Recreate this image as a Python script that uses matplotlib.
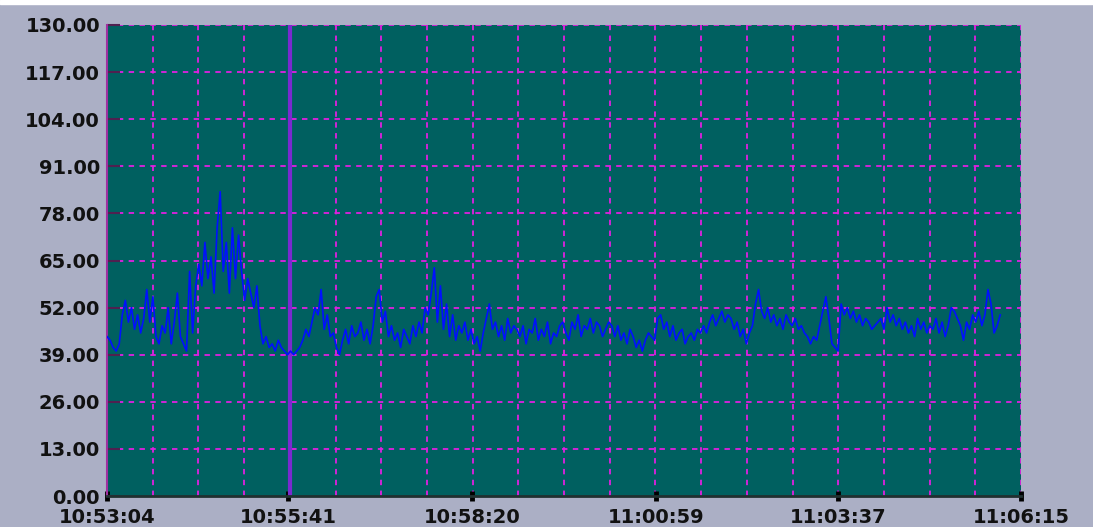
import numpy as np
import matplotlib.pyplot as plt
from matplotlib.patches import Rectangle

# sampled values, one every ~2.65 s starting at 10:53:04
load = [
    44, 43, 41, 40, 42, 50, 54, 48, 52, 46, 50, 45, 49, 57, 48,
    55, 44, 42, 47, 45, 52, 42, 48, 56, 44, 42, 40, 62, 45, 58,
    64, 58, 70, 60, 66, 56, 74, 84, 62, 70, 56, 74, 60, 72, 62,
    54, 60, 56, 52, 58, 47, 42, 44, 41, 42, 40, 43, 41, 40, 39,
    40, 39, 40, 41, 43, 46, 44, 48, 52, 50, 57, 46, 50, 44, 45,
    41, 39, 43, 46, 42, 47, 44, 45, 48, 43, 46, 42, 47, 55, 57,
    48, 51, 44, 47, 43, 45, 41, 46, 44, 42, 47, 44, 48, 45, 52,
    50, 56, 63, 48, 58, 46, 53, 44, 50, 43, 47, 45, 48, 43, 46,
    42, 44, 40, 45, 49, 53, 46, 48, 44, 47, 43, 49, 45, 47, 46,
    44, 47, 42, 46, 45, 49, 43, 46, 44, 48, 42, 45, 44, 47, 48,
    45, 43, 48, 46, 50, 44, 47, 46, 49, 45, 48, 47, 44, 46, 48,
    47, 44, 47, 43, 45, 42, 46, 44, 41, 43, 40, 43, 45, 44, 43,
    49, 50, 46, 48, 44, 47, 43, 45, 46, 42, 44, 45, 43, 46, 45,
    47, 45, 48, 50, 47, 49, 51, 48, 50, 49, 46, 48, 44, 46, 42,
    45, 47, 53, 57, 51, 49, 52, 48, 50, 47, 49, 46, 50, 48, 47,
    49, 46, 47, 45, 44, 42, 44, 43, 47, 51, 55, 49, 42, 41, 40,
    53, 50, 52, 49, 51, 48, 50, 47, 49, 48, 46, 47, 48, 49, 46,
    52, 48, 50, 47, 49, 46, 48, 45, 47, 44, 49, 46, 48, 45, 47,
    46, 49, 45, 48, 44, 47, 52, 51, 49, 47, 43, 48, 46, 50, 48,
    51, 47, 50, 57, 53, 45, 47, 50,
]
dt = 773 / (len(load) - 1)
t = np.arange(len(load)) * dt

tick_sec = [0, 157, 316, 475, 633, 791]
tick_lbl = ['10:53:04', '10:55:41', '10:58:20', '11:00:59', '11:03:37', '11:06:15']
y_ticks = [0, 13, 26, 39, 52, 65, 78, 91, 104, 117, 130]
cursor_sec = 158

bg = '#abafc5'
fig = plt.figure(figsize=(10.93, 5.27), dpi=100, facecolor=bg)
ax = fig.add_axes([107/1093, 31/527, 914/1093, 471/527])
ax.set_facecolor('#006060')

# dashed grid, 4 cells per labelled interval
for g in np.linspace(0, 791, 21)[1:]:
    ax.axvline(g, color='#e020e0', ls=(0, (3, 3)), lw=1.3, zorder=1)
for g in y_ticks[1:]:
    ax.axhline(g, color='#e020e0', ls=(0, (3, 3)), lw=1.3, zorder=1)

ax.axvline(cursor_sec, color='#7a2ad0', lw=3, zorder=2)
ax.plot(t, load, color='#0010ff', lw=1.2, zorder=3)

ax.set_xlim(0, 791)
ax.set_ylim(0, 130)
ax.set_yticks(y_ticks)
ax.set_yticklabels([f'{v:.2f}' for v in y_ticks])
ax.set_xticks(tick_sec)
ax.set_xticklabels(tick_lbl)

ax.tick_params(axis='y', direction='in', length=9, width=1.5, color='#502050',
               labelsize=14, pad=5)
ax.tick_params(axis='x', direction='inout', length=7, width=3.5, color='black',
               labelsize=14, pad=5)
for lab in ax.get_xticklabels() + ax.get_yticklabels():
    lab.set_fontweight('bold')
    lab.set_color('#111111')

for s in ['top', 'right']:
    ax.spines[s].set_visible(False)
ax.spines['left'].set_color('#a030a0')
ax.spines['left'].set_linewidth(1.5)
ax.spines['bottom'].set_color('#203030')
ax.spines['bottom'].set_linewidth(2)

fig.patches.append(Rectangle((0, 1 - 4/527), 1, 4/527, transform=fig.transFigure,
                             color='white', zorder=0))

fig.savefig('out.png', dpi=100, facecolor=bg)
